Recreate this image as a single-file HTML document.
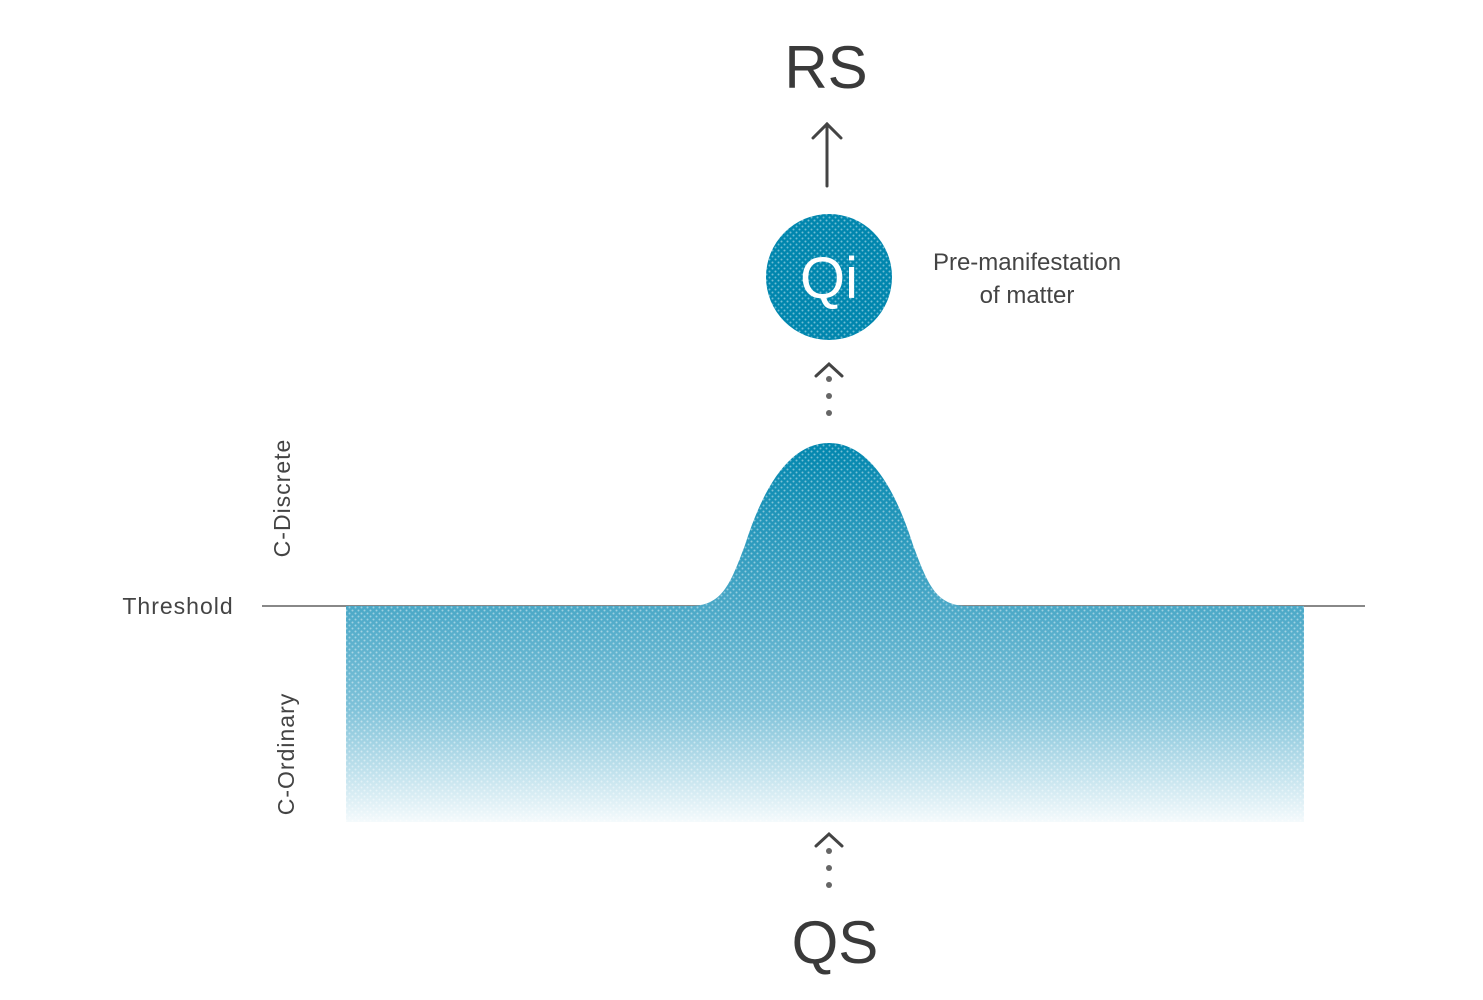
<!DOCTYPE html>
<html><head><meta charset="utf-8"><style>
body{margin:0;background:#fff;}
svg{display:block}
text{font-family:"Liberation Sans","DejaVu Sans",sans-serif;}
</style></head><body>
<svg width="1483" height="1000" viewBox="0 0 1483 1000" xmlns="http://www.w3.org/2000/svg">
<defs>
<linearGradient id="g" x1="0" y1="443" x2="0" y2="822" gradientUnits="userSpaceOnUse">
<stop offset="0" stop-color="#0086ae"/>
<stop offset="0.43" stop-color="#4aa8c7"/>
<stop offset="0.7" stop-color="#7fc2d9"/>
<stop offset="1" stop-color="#f4fafc"/>
</linearGradient>
<pattern id="d" width="6" height="6" patternUnits="userSpaceOnUse">
<circle cx="1.5" cy="1.5" r="1" fill="#fff" opacity="0.45"/>
<circle cx="4.5" cy="4.5" r="1" fill="#fff" opacity="0.45"/>
</pattern>
</defs>
<line x1="262" y1="606" x2="1365" y2="606" stroke="#888" stroke-width="2"/>
<path d="M346 606 L690 606 C722 606 730 585 745 545 C765 482 792 443 829 443 C866 443 893 482 913 545 C928 585 936 606 968 606 L1304 606 L1304 822 L346 822 Z" fill="url(#g)"/>
<path d="M346 606 L690 606 C722 606 730 585 745 545 C765 482 792 443 829 443 C866 443 893 482 913 545 C928 585 936 606 968 606 L1304 606 L1304 822 L346 822 Z" fill="url(#d)"/>
<circle cx="829" cy="277" r="63" fill="#0086ae"/>
<circle cx="829" cy="277" r="63" fill="url(#d)"/>
<text x="829" y="298" font-size="58" fill="#fff" text-anchor="middle">Qi</text>
<text x="826" y="88" font-size="60" fill="#3a3a3a" text-anchor="middle">RS</text>
<text x="835" y="963" font-size="60" fill="#3a3a3a" text-anchor="middle">QS</text>
<g stroke="#444" stroke-width="3" fill="none" stroke-linecap="round">
<line x1="827" y1="186" x2="827" y2="124"/>
<polyline points="813,138 827,124 841,138"/>
<polyline points="816,376 829,364 842,376"/>
<polyline points="816,846 829,834 842,846"/>
</g>
<g fill="#666">
<circle cx="829" cy="379" r="3"/><circle cx="829" cy="396" r="3"/><circle cx="829" cy="413" r="3"/>
<circle cx="829" cy="851" r="3"/><circle cx="829" cy="868" r="3"/><circle cx="829" cy="885" r="3"/>
</g>
<text x="1027" y="270" font-size="24" fill="#444" text-anchor="middle">Pre-manifestation</text>
<text x="1027" y="303" font-size="24" fill="#444" text-anchor="middle">of matter</text>
<text x="178" y="614" font-size="23" fill="#444" text-anchor="middle" letter-spacing="1">Threshold</text>
<text transform="translate(290,498) rotate(-90)" font-size="23" fill="#444" text-anchor="middle" letter-spacing="1">C-Discrete</text>
<text transform="translate(294,754) rotate(-90)" font-size="23" fill="#444" text-anchor="middle" letter-spacing="1">C-Ordinary</text>
</svg>
</body></html>
